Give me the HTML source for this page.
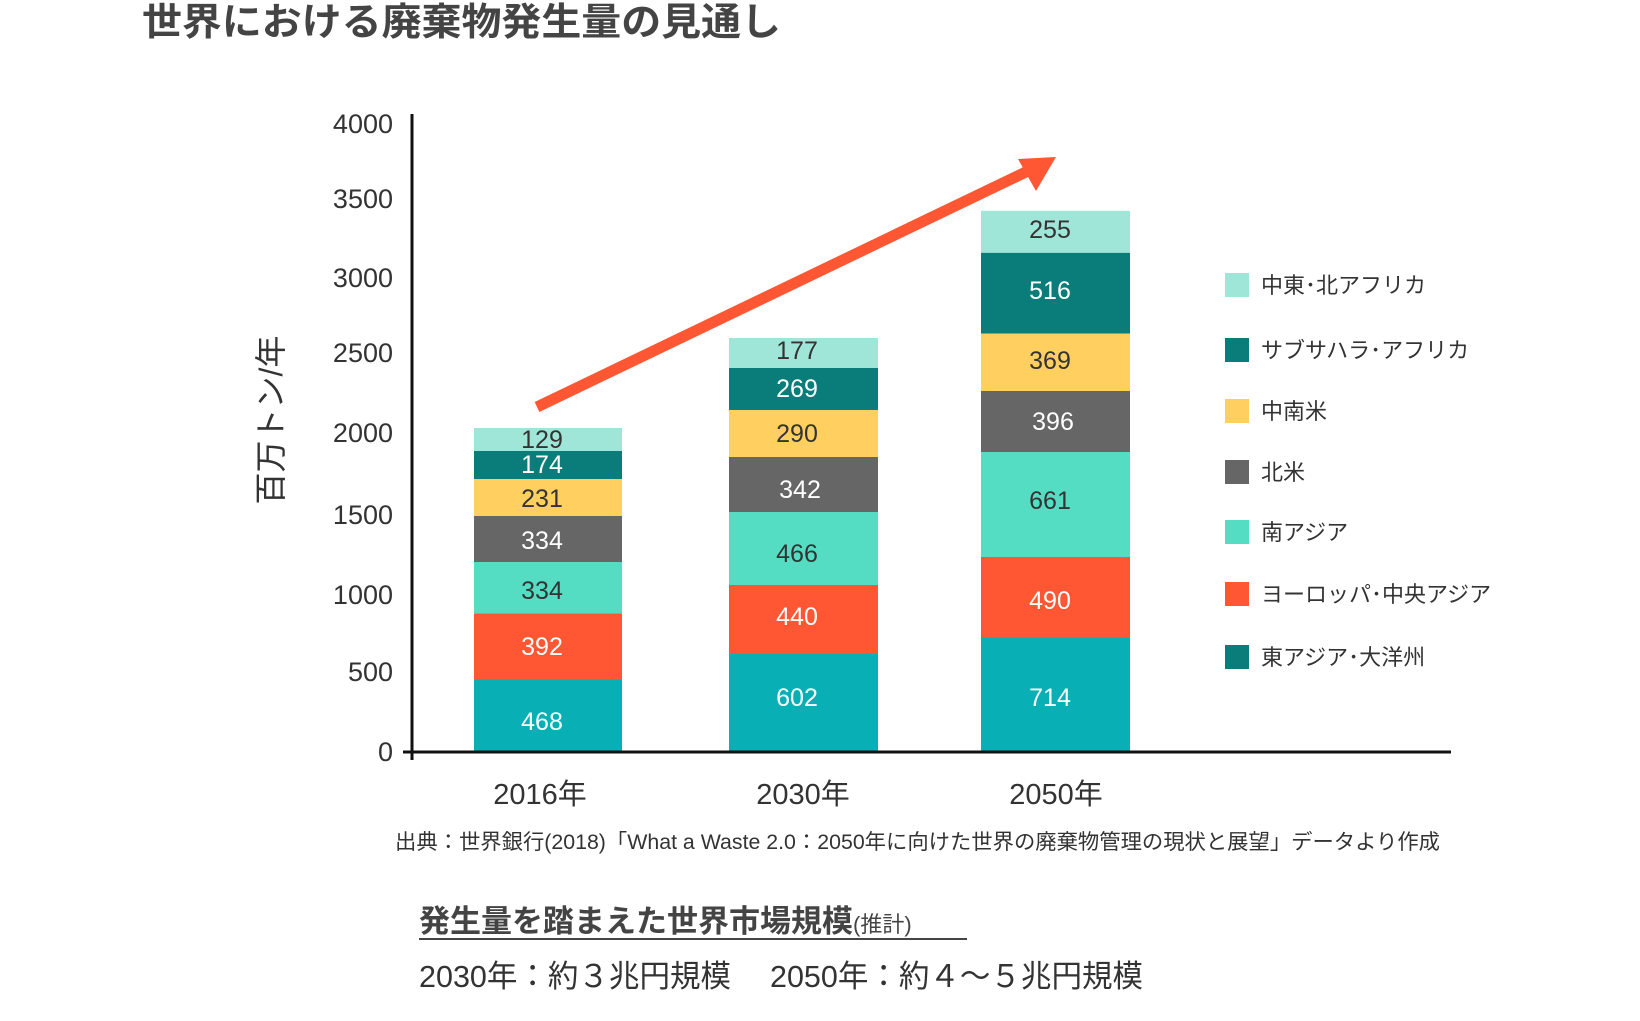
<!DOCTYPE html>
<html><head><meta charset="utf-8"><style>
html,body{margin:0;padding:0;background:#fff}
svg{display:block}
text{font-family:"Liberation Sans","Noto Sans CJK JP",sans-serif}
</style></head><body>
<svg width="1640" height="1021" viewBox="0 0 1640 1021" xmlns="http://www.w3.org/2000/svg">
<text x="142" y="35" font-size="38" font-weight="bold" fill="#444" textLength="639" lengthAdjust="spacingAndGlyphs">世界における廃棄物発生量の見通し</text>
<g font-size="27" fill="#333" text-anchor="end">
<text x="393" y="133">4000</text><text x="393" y="208">3500</text><text x="393" y="287">3000</text>
<text x="393" y="362">2500</text><text x="393" y="442">2000</text><text x="393" y="524">1500</text>
<text x="393" y="604">1000</text><text x="393" y="681">500</text><text x="393" y="761">0</text>
</g>
<text transform="translate(282,420) rotate(-90)" font-size="32" fill="#333" text-anchor="middle">百万トン/年</text>
<g>
<rect x="474" y="679.5" width="148" height="72.5" fill="#08AFB5"/>
<rect x="474" y="613.4" width="148" height="66.1" fill="#FF5733"/>
<rect x="474" y="562" width="148" height="51.4" fill="#55DDC4"/>
<rect x="474" y="516" width="148" height="46" fill="#666666"/>
<rect x="474" y="479" width="148" height="37" fill="#FFD060"/>
<rect x="474" y="451" width="148" height="28" fill="#0A7D7A"/>
<rect x="474" y="428" width="148" height="23" fill="#A0E6D8"/>
<rect x="729" y="654" width="149" height="98" fill="#08AFB5"/>
<rect x="729" y="585" width="149" height="69" fill="#FF5733"/>
<rect x="729" y="512" width="149" height="73" fill="#55DDC4"/>
<rect x="729" y="457" width="149" height="55" fill="#666666"/>
<rect x="729" y="410" width="149" height="47" fill="#FFD060"/>
<rect x="729" y="368" width="149" height="42" fill="#0A7D7A"/>
<rect x="729" y="338" width="149" height="30" fill="#A0E6D8"/>
<rect x="981" y="637.5" width="149" height="114.5" fill="#08AFB5"/>
<rect x="981" y="557" width="149" height="80.5" fill="#FF5733"/>
<rect x="981" y="452" width="149" height="105" fill="#55DDC4"/>
<rect x="981" y="391" width="149" height="61" fill="#666666"/>
<rect x="981" y="333.5" width="149" height="57.5" fill="#FFD060"/>
<rect x="981" y="252.7" width="149" height="80.8" fill="#0A7D7A"/>
<rect x="981" y="210.8" width="149" height="41.9" fill="#A0E6D8"/>
</g>
<g font-size="25" text-anchor="middle">
<text x="542" y="730" fill="#fff">468</text>
<text x="542" y="655" fill="#fff">392</text>
<text x="542" y="599" fill="#333">334</text>
<text x="542" y="549" fill="#fff">334</text>
<text x="542" y="507" fill="#333">231</text>
<text x="542" y="473" fill="#fff">174</text>
<text x="542" y="448" fill="#333">129</text>
<text x="797" y="706" fill="#fff">602</text>
<text x="797" y="625" fill="#fff">440</text>
<text x="797" y="562" fill="#333">466</text>
<text x="800" y="498" fill="#fff">342</text>
<text x="797" y="442" fill="#333">290</text>
<text x="797" y="397" fill="#fff">269</text>
<text x="797" y="359" fill="#333">177</text>
<text x="1050" y="706" fill="#fff">714</text>
<text x="1050" y="609" fill="#fff">490</text>
<text x="1050" y="509" fill="#333">661</text>
<text x="1053" y="430" fill="#fff">396</text>
<text x="1050" y="369" fill="#333">369</text>
<text x="1050" y="299" fill="#fff">516</text>
<text x="1050" y="238" fill="#333">255</text>
</g>
<line x1="412" y1="114" x2="412" y2="760" stroke="#111" stroke-width="3"/>
<line x1="403" y1="752" x2="1451" y2="752" stroke="#111" stroke-width="3"/>
<g font-size="29" fill="#333" text-anchor="middle">
<text x="540" y="804">2016年</text><text x="803" y="804">2030年</text><text x="1056" y="804">2050年</text>
</g>
<line x1="537" y1="407" x2="1030" y2="170" stroke="#FF5733" stroke-width="11"/>
<polygon points="1056,157 1018,159 1036,191" fill="#FF5733"/>
<g font-size="22" fill="#333">
<rect x="1225" y="273" width="24" height="24" fill="#A0E6D8"/><text x="1261" y="293">中東･北アフリカ</text>
<rect x="1225" y="338" width="24" height="24" fill="#0A7D7A"/><text x="1261" y="358">サブサハラ･アフリカ</text>
<rect x="1225" y="399" width="24" height="24" fill="#FFD060"/><text x="1261" y="419">中南米</text>
<rect x="1225" y="460" width="24" height="24" fill="#666666"/><text x="1261" y="480">北米</text>
<rect x="1225" y="520" width="24" height="24" fill="#55DDC4"/><text x="1261" y="540">南アジア</text>
<rect x="1225" y="582" width="24" height="24" fill="#FF5733"/><text x="1261" y="602">ヨーロッパ･中央アジア</text>
<rect x="1225" y="645" width="24" height="24" fill="#0A7D7A"/><text x="1261" y="665">東アジア･大洋州</text>
</g>
<text x="395" y="849" font-size="21" fill="#333" textLength="1045" lengthAdjust="spacingAndGlyphs">出典：世界銀行(2018)「What a Waste 2.0：2050年に向けた世界の廃棄物管理の現状と展望」データより作成</text>
<text x="419" y="932" font-size="31" font-weight="bold" fill="#444">発生量を踏まえた世界市場規模<tspan font-size="22" font-weight="normal">(推計)</tspan></text>
<line x1="419" y1="939" x2="967" y2="939" stroke="#444" stroke-width="2"/>
<text x="419" y="987" font-size="31" fill="#333" textLength="724" lengthAdjust="spacingAndGlyphs">2030年：約３兆円規模　 2050年：約４～５兆円規模</text>
</svg>
</body></html>
